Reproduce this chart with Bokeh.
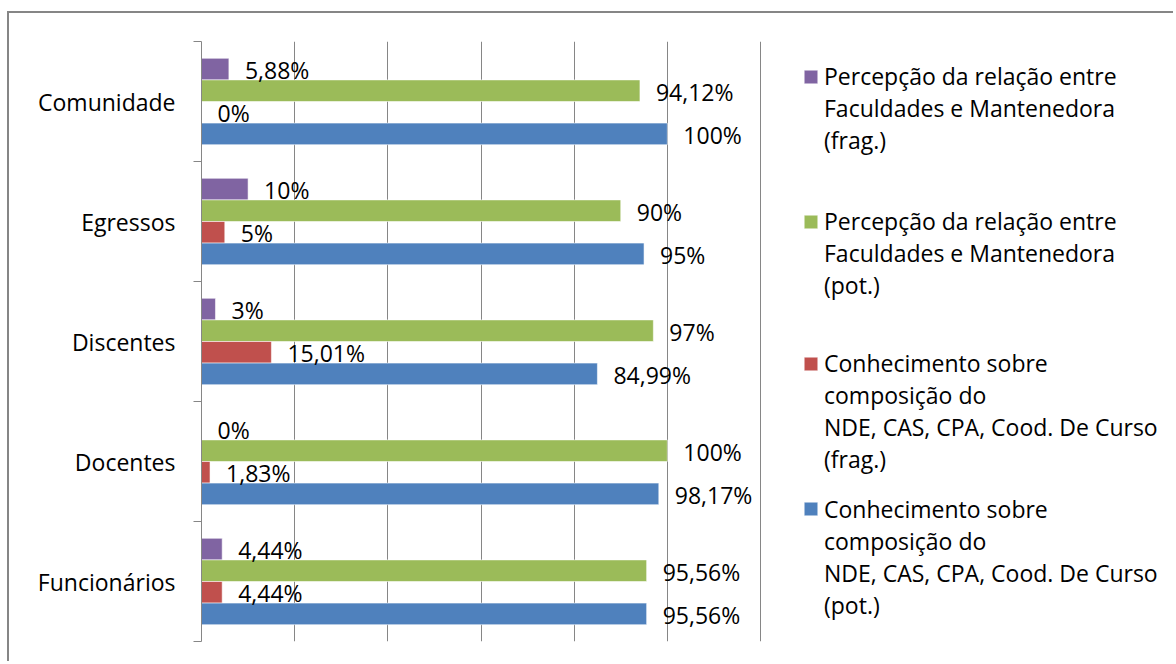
from bokeh.plotting import figure
from bokeh.models import ColumnDataSource, FixedTicker, Legend, LegendItem, Range1d
from bokeh.core.properties import value
from bokeh.embed import file_html
from bokeh.resources import INLINE

# categories listed bottom -> top
categories = ["Funcionários", "Docentes", "Discentes", "Egressos", "Comunidade"]
# legend labels, one list entry per printed line
series_names = [
    ["Percepção da relação entre", "Faculdades e Mantenedora", "(frag.)"],
    ["Percepção da relação entre", "Faculdades e Mantenedora", "(pot.)"],
    ["Conhecimento sobre", "composição do", "NDE, CAS, CPA, Cood. De Curso", "(frag.)"],
    ["Conhecimento sobre", "composição do", "NDE, CAS, CPA, Cood. De Curso", "(pot.)"],
]
percepcao_frag = [4.44, 0, 3, 10, 5.88]
percepcao_pot = [95.56, 100, 97, 90, 94.12]
conhecimento_frag = [4.44, 1.83, 15.01, 5, 0]
conhecimento_pot = [95.56, 98.17, 84.99, 95, 100]
series_values = [percepcao_frag, percepcao_pot, conhecimento_frag, conhecimento_pot]
colors = ["#8064A2", "#9BBB59", "#C0504D", "#4F81BD"]
x_grid_ticks = [20, 40, 60, 80, 100, 120]

FONT = "Open Sans"
FSIZE = "23px"
GRAY = "#868686"

# layout (pixels)
W, H = 1166, 650
LEFT, TOP, BOTTOM = 192, 28, 22
PLOT_PX = 559          # pixels covered by 0..120 %
FRAME_PX = W - LEFT    # frame runs to the right edge so the legend is inside it
FRAME_H = H - TOP - BOTTOM
LEGEND_X = 601
LEGEND_ROW = 31.1                        # height of one legend line
LEGEND_FIRST = [37.5, 182.5, 325.5, 471]  # centre of each entry's first line, from frame top


def fmt(v):
    if float(v).is_integer():
        return f"{int(v)}%"
    return f"{v:.2f}".replace(".", ",") + "%"


p = figure(width=W, height=H, x_range=Range1d(0, 120 * FRAME_PX / PLOT_PX),
           y_range=Range1d(0, len(categories)),
           output_backend="svg", toolbar_location=None, x_axis_location=None,
           min_border_left=LEFT, min_border_right=0, min_border_top=TOP, min_border_bottom=BOTTOM)
p.styles = {"border-top": f"2px solid {GRAY}", "border-left": f"2px solid {GRAY}",
            "margin-left": "7px", "margin-top": "11px"}
p.outline_line_color = None
p.xgrid.ticker = FixedTicker(ticks=x_grid_ticks)
p.xgrid.grid_line_color = GRAY
p.ygrid.visible = False

ax = p.yaxis[0]
ax.ticker = FixedTicker(ticks=[i + 0.5 for i in range(len(categories))],
                        minor_ticks=list(range(len(categories) + 1)))
ax.major_label_overrides = {i + 0.5: c for i, c in enumerate(categories)}
ax.major_tick_line_color = None
ax.major_tick_out = 0
ax.major_tick_in = 0
ax.minor_tick_out = 8
ax.minor_tick_in = 0
ax.minor_tick_line_color = GRAY
ax.axis_line_color = GRAY
ax.major_label_standoff = 18
ax.major_label_text_font = FONT
ax.major_label_text_font_size = FSIZE
ax.major_label_text_color = "black"

offsets = [0.27, 0.09, -0.09, -0.27]
bar_h = 0.18
rends = []
sources = []
for k in range(4):
    src = ColumnDataSource(dict(
        y=[i + 0.5 + offsets[k] for i in range(len(categories))],
        v=series_values[k],
        label=[fmt(v) for v in series_values[k]],
    ))
    r = p.hbar(y="y", left=0, right="v", height=bar_h, fill_color=colors[k],
               line_color="white", line_alpha=0.55, line_width=1, source=src)
    rends.append(r)
    sources.append(src)

for k in range(4):
    p.text(x="v", y="y", text="label", source=sources[k], x_offset=16, y_offset=1,
           text_align="left", text_baseline="middle", text_font=value(FONT),
           text_font_size=FSIZE, text_color="black")

# invisible renderer used by the continuation lines of the legend labels
blank = p.hbar(y=[], left=[], right=[], height=0.1, fill_alpha=0, line_alpha=0)

for k, lines in enumerate(series_names):
    items = [LegendItem(label=lines[0], renderers=[rends[k]])]
    items += [LegendItem(label=ln, renderers=[blank]) for ln in lines[1:]]
    bottom_from_top = LEGEND_FIRST[k] + (len(lines) - 0.5) * LEGEND_ROW
    lg = Legend(items=items, location=(LEGEND_X, FRAME_H - bottom_from_top), orientation="vertical",
                padding=0, margin=0, spacing=0, label_height=29,
                glyph_width=17, glyph_height=17, label_standoff=5,
                label_text_font=FONT, label_text_font_size=FSIZE, label_text_line_height=1.0,
                label_text_color="black", border_line_color=None, background_fill_alpha=0)
    p.add_layout(lg, "center")

open("out.html", "w", encoding="utf-8").write(file_html(p, INLINE))
